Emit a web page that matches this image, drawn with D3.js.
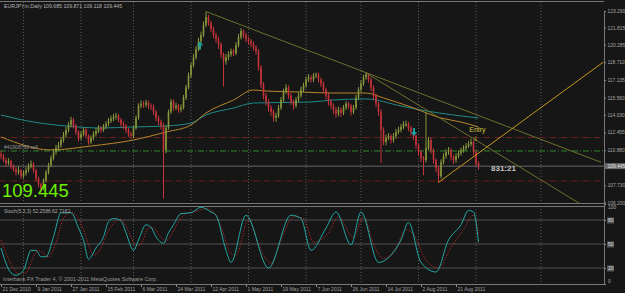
<!DOCTYPE html>
<html>
<head>
<meta charset="utf-8">
<script src="https://cdnjs.cloudflare.com/ajax/libs/d3/7.8.5/d3.min.js"></script>
<style>
  html, body { margin: 0; padding: 0; background: #161616; }
  svg { display: block; }
  text { font-family: "Liberation Sans", Arial, sans-serif; }
</style>
</head>
<body>
<div id="chart"></div>
<script>
// ---- data (EURJPYm daily) ----
const firstOpen = 110.52;
const closes = [
  110.34, 109.98, 109.71, 109.89, 109.44, 109.17, 108.90, 109.08, 108.54, 108.81,
  109.08, 109.44, 109.62, 109.08, 108.36, 107.82, 107.46, 108.18, 108.90, 109.53,
  110.16, 110.70, 111.06, 111.33, 111.78, 112.23, 112.68, 113.13, 113.58, 113.04,
  112.50, 111.96, 112.32, 112.68, 112.14, 111.60, 111.96, 112.32, 112.59, 112.86,
  112.68, 112.95, 113.22, 113.49, 113.67, 113.85, 113.94, 113.58, 113.22, 113.04,
  112.68, 112.32, 112.14, 112.86, 113.76, 114.84, 115.02, 114.93, 115.11, 114.84,
  114.75, 114.30, 113.76, 113.40, 113.04, 110.88, 112.86, 114.30, 115.20, 114.66,
  114.84, 114.48, 114.66, 115.56, 116.46, 117.54, 118.44, 119.16, 119.88, 120.60,
  121.14, 122.04, 122.76, 122.22, 121.68, 121.14, 120.78, 120.33, 119.43, 118.80,
  119.16, 119.43, 119.70, 119.52, 120.24, 120.96, 121.50, 121.14, 120.78, 120.60,
  120.33, 120.06, 119.70, 118.26, 116.73, 115.74, 115.20, 114.66, 114.30, 113.76,
  113.94, 114.66, 115.38, 116.10, 116.46, 115.74, 115.20, 114.84, 115.38, 115.74,
  116.28, 116.64, 117.18, 117.36, 117.18, 117.54, 117.63, 117.18, 116.82, 116.28,
  115.74, 115.20, 114.84, 114.48, 114.12, 114.48, 114.21, 114.66, 115.02, 114.84,
  114.30, 114.66, 115.56, 116.28, 116.82, 117.36, 117.63, 117.18, 116.46, 115.74,
  115.02, 114.30, 112.68, 111.60, 111.96, 112.14, 111.78, 112.14, 112.50, 112.68,
  112.95, 113.22, 113.22, 112.86, 112.50, 112.14, 111.33, 110.70, 110.16, 109.98,
  111.06, 111.78, 110.88, 109.98, 109.26, 108.54, 109.80, 110.34, 110.70, 110.88,
  110.25, 109.98, 110.34, 110.61, 110.88, 111.06, 111.24, 111.42, 111.60, 110.70,
  109.685, 109.445
];
const highs = [
  110.80, 110.55, 110.20, 110.15, 110.02, 109.60, 109.35, 109.40, 109.20, 109.05,
  109.35, 109.70, 109.95, 109.80, 109.20, 108.50, 107.95, 108.35, 109.10, 109.75,
  110.40, 110.95, 111.35, 111.60, 112.05, 112.50, 112.95, 113.40, 113.85, 113.75,
  113.20, 112.65, 112.55, 112.90, 112.85, 112.30, 112.20, 112.55, 112.85, 113.10,
  113.05, 113.20, 113.45, 113.75, 113.95, 114.10, 114.20, 114.10, 113.75, 113.45,
  113.20, 112.85, 112.50, 113.05, 113.95, 115.05, 115.30, 115.25, 115.35, 115.30,
  115.05, 114.95, 114.45, 113.95, 113.60, 113.30, 113.10, 114.50, 115.45, 115.40,
  115.10, 115.00, 114.95, 115.80, 116.70, 117.80, 118.70, 119.45, 120.15, 120.90,
  121.45, 122.35, 123.24, 122.95, 122.40, 121.90, 121.35, 121.00, 120.50, 119.60,
  119.45, 119.70, 119.95, 119.90, 120.50, 121.25, 121.77, 121.65, 121.35, 121.00,
  120.80, 120.55, 120.25, 119.90, 118.45, 116.95, 115.95, 115.40, 114.90, 114.50,
  114.20, 114.90, 115.60, 116.35, 116.75, 116.65, 115.95, 115.40, 115.60, 116.00,
  116.55, 116.90, 117.45, 117.65, 117.55, 117.75, 117.81, 117.80, 117.35, 117.00,
  116.45, 115.95, 115.40, 115.05, 114.70, 114.75, 114.70, 114.90, 115.25, 115.20,
  115.00, 114.90, 115.80, 116.50, 117.10, 117.60, 117.81, 117.75, 117.35, 116.65,
  115.90, 115.20, 114.50, 112.90, 112.25, 112.40, 112.30, 112.40, 112.75, 112.95,
  113.20, 113.45, 113.50, 113.40, 113.05, 112.70, 112.30, 111.50, 110.90, 110.35,
  114.21, 112.05, 111.95, 111.05, 110.15, 109.45, 110.05, 110.60, 110.95, 111.15,
  111.05, 110.45, 110.60, 110.85, 111.10, 111.30, 111.50, 111.70, 111.90, 111.75,
  110.85, 109.871
];
const lows = [
  110.05, 109.80, 109.40, 109.55, 109.20, 108.95, 108.62, 108.70, 108.30, 108.35,
  108.60, 108.90, 109.25, 108.85, 108.10, 107.55, 107.01, 107.30, 108.00, 108.70,
  109.35, 109.95, 110.45, 110.80, 111.10, 111.55, 112.00, 112.45, 112.90, 112.80,
  112.25, 111.65, 111.75, 112.10, 111.90, 111.35, 111.40, 111.75, 112.10, 112.40,
  112.40, 112.50, 112.75, 113.00, 113.30, 113.45, 113.60, 113.35, 112.95, 112.75,
  112.40, 112.05, 111.85, 111.95, 112.70, 113.60, 114.60, 114.65, 114.70, 114.55,
  114.45, 114.00, 113.45, 113.10, 112.70, 106.56, 110.60, 112.70, 114.10, 114.40,
  114.45, 114.20, 114.25, 114.50, 115.35, 116.30, 117.30, 118.25, 118.95, 119.70,
  120.40, 120.95, 121.85, 121.95, 121.40, 120.85, 120.45, 119.90, 119.10, 116.55,
  118.50, 118.90, 119.20, 119.25, 119.35, 120.05, 120.75, 120.85, 120.50, 120.30,
  120.05, 119.75, 119.40, 117.95, 116.40, 115.40, 114.85, 114.30, 113.95, 113.40,
  113.40, 113.75, 114.45, 115.15, 115.90, 115.45, 114.90, 114.50, 114.65, 115.15,
  115.55, 116.05, 116.45, 116.95, 116.90, 116.95, 117.30, 116.90, 116.50, 115.95,
  115.40, 114.85, 114.50, 114.10, 113.75, 113.90, 113.85, 114.00, 114.45, 114.55,
  113.95, 114.10, 114.50, 115.35, 116.05, 116.60, 117.15, 116.90, 116.15, 115.40,
  114.70, 113.95, 109.71, 111.30, 111.30, 111.75, 111.45, 111.55, 111.90, 112.30,
  112.45, 112.75, 112.95, 112.55, 112.20, 111.80, 111.00, 110.35, 109.80, 108.63,
  109.75, 110.85, 110.55, 109.65, 108.90, 108.00, 108.35, 109.60, 110.10, 110.45,
  109.95, 109.65, 109.75, 110.15, 110.40, 110.65, 110.85, 111.05, 111.20, 110.40,
  109.45, 109.118
];

// moving averages, read at sample bars
const maSlowIdx = [0, 20, 36, 53, 66, 76, 82, 93, 101, 106, 120, 133, 146, 153, 164, 176, 184, 191];
const maSlowVal = [112.05, 110.89, 111.24, 111.78, 112.49, 113.12, 114.19, 115.35, 116.24, 116.15,
  116.06, 115.97, 115.97, 115.53, 114.72, 113.74, 113.38, 112.94];
const maLongIdx = [0, 13, 26, 40, 53, 66, 76, 82, 93, 101, 124, 133, 146, 160, 170, 181, 191];
const maLongVal = [114.01, 113.38, 113.03, 112.85, 112.94, 113.03, 113.29, 114.01, 114.63, 115.08,
  115.17, 115.35, 115.44, 114.81, 114.37, 114.01, 113.74];

// stochastic (main + signal), read at sample bars
const stochIdx = [0, 4, 6, 9, 12, 14, 16, 18, 21, 24, 26, 28, 31, 33, 35, 38, 41, 43, 45, 48,
  50, 53, 55, 58, 60, 62, 65, 67, 69, 72, 76, 80, 84, 86, 90, 92, 98, 107, 116, 120,
  124, 130, 134, 140, 144, 151, 156, 160, 163, 168, 174, 179, 184, 187, 189, 191];
const stochMain = [45, 14, 11, 17, 42, 42, 34, 34, 59, 89, 89, 89, 70, 55, 31, 45, 59, 78, 82, 79,
  64, 42, 55, 74, 71, 59, 51, 64, 74, 88, 89, 96, 90, 86, 42, 27, 86, 20, 86, 82,
  42, 70, 90, 49, 90, 27, 36, 55, 77, 27, 15, 55, 74, 92, 90, 52.26];
const signalIdx = [0, 4, 7, 10, 13, 15, 17, 19, 22, 25, 28, 30, 33, 35, 37, 40, 42, 45, 48, 51,
  54, 56, 59, 61, 64, 66, 69, 71, 74, 78, 82, 85, 88, 92, 94, 99, 103, 108, 112, 117,
  121, 125, 131, 135, 141, 145, 149, 153, 158, 162, 165, 170, 175, 180, 185, 189, 191];
const signalVal = [55, 25, 13, 14, 34, 42, 38, 34, 52, 82, 90, 86, 68, 50, 36, 45, 60, 76, 81, 66,
  48, 50, 70, 70, 58, 54, 66, 78, 88, 91, 94, 90, 72, 38, 36, 80, 50, 26, 55, 84,
  82, 52, 64, 84, 58, 84, 50, 32, 45, 68, 62, 30, 20, 46, 68, 86, 62.72];

// trend lines [bar, price]
const trendLines = [
  { from: [82, 123.24], to: [240, 109.79], color: "#6f6f2e" },
  { from: [146, 117.76], to: [240, 104.94], color: "#6f6f2e" },
  { from: [175, 108.00], to: [241, 118.74], color: "#c9981e" }
];
const levels = [
  { price: 112.00, color: "#6e1c1c", dash: "6,2,1,2" },
  { price: 110.80, color: "#2f8a2f", dash: "6,2,1,2" },
  { price: 108.12, color: "#6e1c1c", dash: "6,2,1,2" }
];
const bid = 109.445;

const priceTicks = [123.290, 121.815, 120.285, 118.710, 117.135, 115.560, 114.030,
  112.455, 110.880, 107.730, 106.200];
const stochTicks = [100, 80, 50, 20, 0];
const stochLevels = [80, 50, 20];
const dateIdx = [0, 14, 28, 42, 56, 70, 84, 98, 112, 126, 140, 154, 168, 182];
const dateLabels = ["21 Dec 2010", "9 Jan 2011", "27 Jan 2011", "15 Feb 2011", "6 Mar 2011",
  "24 Mar 2011", "12 Apr 2011", "1 May 2011", "19 May 2011", "7 Jun 2011", "26 Jun 2011",
  "14 Jul 2011", "2 Aug 2011", "21 Aug 2011"];
const monthIdx = [9, 32, 53, 76, 99, 122, 144, 167, 190, 216];

// ---- layout ----
const WIDTH = 625, HEIGHT = 293;
const AXIS_X = 604;
const MAIN = { TOP: 2, BOTTOM: 203 };
const SUB = { TOP: 206, BOTTOM: 284 };
const SMALL = 5;

const x = d3.scaleLinear().domain([0, 191]).range([1, 478.5]);
const y = d3.scaleLinear().domain([106.2, 123.29]).range([202.5, 11]);
const ys = d3.scaleLinear().domain([0, 100]).range([284, 204]);

const svg = d3.select("#chart").append("svg")
  .attr("width", WIDTH).attr("height", HEIGHT)
  .style("background", "#161616");

const defs = svg.append("defs");
defs.append("clipPath").attr("id", "clipMain").append("rect")
  .attr("x", 0).attr("y", MAIN.TOP).attr("width", AXIS_X).attr("height", MAIN.BOTTOM - MAIN.TOP);
defs.append("clipPath").attr("id", "clipSub").append("rect")
  .attr("x", 0).attr("y", SUB.TOP).attr("width", AXIS_X).attr("height", SUB.BOTTOM - SUB.TOP);

// grid (month separators)
svg.append("g").selectAll("line").data(monthIdx).join("line")
  .attr("x1", d => x(d)).attr("x2", d => x(d))
  .attr("y1", MAIN.TOP).attr("y2", SUB.BOTTOM)
  .attr("stroke", "#585858").attr("stroke-width", 1)
  .attr("stroke-dasharray", "1,2");

const main = svg.append("g").attr("clip-path", "url(#clipMain)");

// horizontal levels
main.selectAll(".lvl").data(levels).join("line")
  .attr("x1", 0).attr("x2", AXIS_X)
  .attr("y1", d => y(d.price)).attr("y2", d => y(d.price))
  .attr("stroke", d => d.color).attr("stroke-dasharray", d => d.dash);
main.append("line")
  .attr("x1", 0).attr("x2", AXIS_X).attr("y1", y(bid)).attr("y2", y(bid))
  .attr("stroke", "#6a6a6a");

// moving averages
const line = d3.line().curve(d3.curveMonotoneX);
main.append("path")
  .attr("d", line(maLongIdx.map((d, i) => [x(d), y(maLongVal[i])])))
  .attr("fill", "none").attr("stroke", "#1f8a8a");
main.append("path")
  .attr("d", line(maSlowIdx.map((d, i) => [x(d), y(maSlowVal[i])])))
  .attr("fill", "none").attr("stroke", "#b8862a");

// candles
const bars = closes.map((c, i) => ({
  i, o: i === 0 ? firstOpen : closes[i - 1], c, h: highs[i], l: lows[i]
}));
const candle = main.selectAll(".candle").data(bars).join("g");
candle.append("line")
  .attr("x1", d => x(d.i)).attr("x2", d => x(d.i))
  .attr("y1", d => y(d.h)).attr("y2", d => y(d.l))
  .attr("stroke", d => d.c >= d.o ? "#86963a" : "#c4323a");
candle.append("rect")
  .attr("x", d => x(d.i) - 0.8)
  .attr("width", 1.6)
  .attr("y", d => y(Math.max(d.o, d.c)))
  .attr("height", d => Math.max(1, Math.abs(y(d.o) - y(d.c))))
  .attr("fill", d => d.c >= d.o ? "#86963a" : "#c4323a");

// trend lines
main.selectAll(".trend").data(trendLines).join("line")
  .attr("x1", d => x(d.from[0])).attr("y1", d => y(d.from[1]))
  .attr("x2", d => x(d.to[0])).attr("y2", d => y(d.to[1]))
  .attr("stroke", d => d.color).attr("stroke-width", 1);

// arrows
function arrow(g, cx, cy, up) {
  const s = up ? -1 : 1;
  g.append("path")
    .attr("d", `M${cx},${cy + 4 * s} L${cx - 3},${cy} L${cx - 1},${cy} L${cx - 1},${cy - 4 * s} L${cx + 1},${cy - 4 * s} L${cx + 1},${cy} L${cx + 3},${cy} Z`)
    .attr("fill", "#18a3a3");
}
arrow(main, x(79.6), y(120.2), true);
arrow(main, x(165.2), y(112.5), false);

// entry marker
main.append("text").attr("x", x(187.3)).attr("y", y(112.45))
  .attr("fill", "#d2c640").attr("font-size", 7).text("Entry");
main.append("text").attr("x", x(188.6)).attr("y", y(111.7))
  .attr("fill", "#d2c640").attr("font-size", 6).text("⇩");

// countdown
main.append("text").attr("x", x(196)).attr("y", y(109.0))
  .attr("fill", "#c4c4c4").attr("font-size", 8).attr("font-weight", "bold").text("831:21");

// order label on green line
main.append("text").attr("x", 4).attr("y", y(110.80) - 2)
  .attr("fill", "#9a9a9a").attr("font-size", SMALL).text("#41908760 sell");

// big bid number
svg.append("text").attr("x", 2).attr("y", 197)
  .attr("fill", "#6cf000").attr("font-size", 18.5).text("109.445");

// title
svg.append("text").attr("x", 4).attr("y", 8)
  .attr("fill", "#b4b4b4").attr("font-size", 5.2)
  .text("EURJPYm,Daily  109.685 109.871 109.118 109.445");

// pane borders
svg.append("line").attr("x1", 0).attr("x2", AXIS_X).attr("y1", 1.5).attr("y2", 1.5).attr("stroke", "#777");
svg.append("line").attr("x1", 0).attr("x2", AXIS_X).attr("y1", 203.5).attr("y2", 203.5).attr("stroke", "#777");
svg.append("line").attr("x1", 0).attr("x2", AXIS_X).attr("y1", 206.5).attr("y2", 206.5).attr("stroke", "#777");

// price axis
const yAxis = svg.append("g").attr("transform", `translate(${AXIS_X},0)`)
  .call(d3.axisRight(y).tickValues(priceTicks).tickFormat(d3.format(".3f")).tickSize(2).tickPadding(1.5));
yAxis.select(".domain").attr("stroke", "#777");
yAxis.selectAll(".tick line").attr("stroke", "#888");
yAxis.selectAll(".tick text").attr("fill", "#a8a8a8").attr("font-size", 4.9)
  .attr("font-family", "Liberation Sans, Arial, sans-serif");

// bid label on axis
const bidG = svg.append("g").attr("transform", `translate(${AXIS_X},${y(bid)})`);
bidG.append("rect").attr("x", 0).attr("y", -3).attr("width", 21).attr("height", 6).attr("fill", "#6a6a6a");
bidG.append("text").attr("x", 3.5).attr("y", 1.8).attr("fill", "#e8e8e8").attr("font-size", 4.9).text("109.445");

// stochastic pane
const sub = svg.append("g").attr("clip-path", "url(#clipSub)");
sub.selectAll(".slvl").data(stochLevels).join("line")
  .attr("x1", 0).attr("x2", AXIS_X)
  .attr("y1", d => ys(d)).attr("y2", d => ys(d))
  .attr("stroke", "#505050");
sub.append("path")
  .attr("d", line(signalIdx.map((d, i) => [x(d), ys(signalVal[i])])))
  .attr("fill", "none").attr("stroke", "#c8302e").attr("stroke-dasharray", "1,1.5");
sub.append("path")
  .attr("d", line(stochIdx.map((d, i) => [x(d), ys(stochMain[i])])))
  .attr("fill", "none").attr("stroke", "#23a9a5");

svg.append("text").attr("x", 4).attr("y", 213)
  .attr("fill", "#a8a8a8").attr("font-size", SMALL).text("Stoch(5,3,3) 52.2586 62.7182");
svg.append("text").attr("x", 3).attr("y", 281)
  .attr("fill", "#9a9a9a").attr("font-size", 5.4)
  .text("Interbank FX Trader 4, © 2001-2011 MetaQuotes Software Corp.");

const sAxis = svg.append("g").attr("transform", `translate(${AXIS_X},0)`)
  .call(d3.axisRight(ys).tickValues(stochTicks).tickSize(2).tickPadding(2));
sAxis.select(".domain").attr("stroke", "#777");
sAxis.selectAll(".tick line").attr("stroke", "#888");
sAxis.selectAll(".tick text")
  .attr("fill", "#a8a8a8").attr("font-size", 4.9)
  .attr("font-family", "Liberation Sans, Arial, sans-serif")
  .attr("dy", d => d === 100 ? "1.0em" : d === 0 ? "-0.3em" : "0.32em");
sAxis.selectAll(".tick").filter(d => stochLevels.includes(d))
  .insert("rect", "text").attr("x", 3).attr("y", -3).attr("width", 7).attr("height", 6).attr("fill", "#555");
sAxis.selectAll(".tick").filter(d => stochLevels.includes(d)).select("text").attr("fill", "#dcdcdc");

// time axis
const xAxis = svg.append("g").attr("transform", `translate(0,${SUB.BOTTOM})`)
  .call(d3.axisBottom(x).tickValues(dateIdx).tickFormat((d, i) => dateLabels[i]).tickSize(3).tickPadding(0));
xAxis.select(".domain").attr("stroke", "#777").attr("d", `M0,0.5H${AXIS_X}`);
xAxis.selectAll(".tick line").attr("stroke", "#888");
xAxis.selectAll(".tick text")
  .attr("fill", "#a0a0a0").attr("font-size", SMALL)
  .attr("font-family", "Liberation Sans, Arial, sans-serif")
  .attr("text-anchor", "start").attr("dx", 1);
</script>
</body>
</html>
